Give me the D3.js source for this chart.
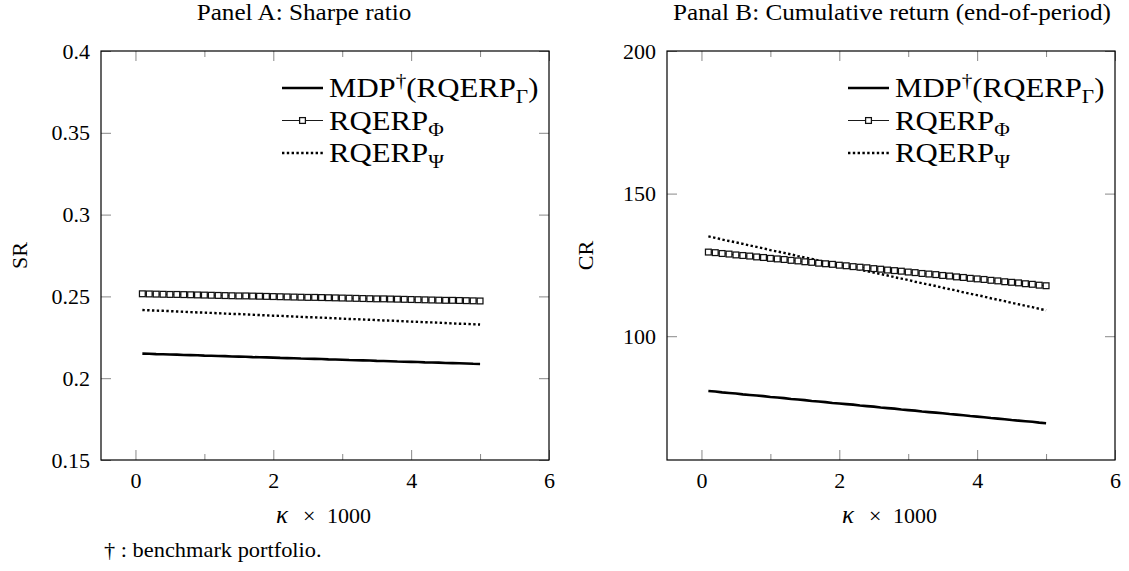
<!DOCTYPE html>
<html>
<head>
<meta charset="utf-8">
<script src="https://cdn.jsdelivr.net/npm/d3@7"></script>
<style>
  body { margin: 0; background: #fff; }
  svg text { font-family: "Liberation Serif", "DejaVu Serif", serif; fill: #000; }
  .tick line { stroke: #888; stroke-width: 1; }
  .tick text { font-size: 22px; }
</style>
</head>
<body>
<svg id="chart" width="1129" height="571"></svg>
<script>
// kappa x 1000
const kappa = [0.1, 0.2, 0.3, 0.4, 0.5, 0.6, 0.7, 0.8, 0.9, 1.0,
  1.1, 1.2, 1.3, 1.4, 1.5, 1.6, 1.7, 1.8, 1.9, 2.0,
  2.1, 2.2, 2.3, 2.4, 2.5, 2.6, 2.7, 2.8, 2.9, 3.0,
  3.1, 3.2, 3.3, 3.4, 3.5, 3.6, 3.7, 3.8, 3.9, 4.0,
  4.1, 4.2, 4.3, 4.4, 4.5, 4.6, 4.7, 4.8, 4.9, 5.0];

// Panel A: Sharpe ratio
const srMDP = [0.2150, 0.2149, 0.2147, 0.2146, 0.2145, 0.2144, 0.2142, 0.2141, 0.2140, 0.2138,
  0.2137, 0.2136, 0.2135, 0.2133, 0.2132, 0.2131, 0.2129, 0.2128, 0.2127, 0.2126,
  0.2124, 0.2123, 0.2122, 0.2120, 0.2119, 0.2118, 0.2117, 0.2115, 0.2114, 0.2113,
  0.2111, 0.2110, 0.2109, 0.2108, 0.2106, 0.2105, 0.2104, 0.2102, 0.2101, 0.2100,
  0.2099, 0.2097, 0.2096, 0.2095, 0.2093, 0.2092, 0.2091, 0.2090, 0.2088, 0.2087];
const srPhi = [0.2516, 0.2515, 0.2514, 0.2513, 0.2512, 0.2512, 0.2511, 0.2510, 0.2509, 0.2508,
  0.2507, 0.2506, 0.2505, 0.2504, 0.2503, 0.2503, 0.2502, 0.2501, 0.2500, 0.2499,
  0.2498, 0.2497, 0.2496, 0.2495, 0.2494, 0.2494, 0.2493, 0.2492, 0.2491, 0.2490,
  0.2489, 0.2488, 0.2487, 0.2486, 0.2485, 0.2485, 0.2484, 0.2483, 0.2482, 0.2481,
  0.2480, 0.2479, 0.2478, 0.2477, 0.2476, 0.2476, 0.2475, 0.2474, 0.2473, 0.2472];
const srPsi = [0.2417, 0.2415, 0.2413, 0.2412, 0.2410, 0.2408, 0.2406, 0.2404, 0.2402, 0.2401,
  0.2399, 0.2397, 0.2395, 0.2393, 0.2392, 0.2390, 0.2388, 0.2386, 0.2384, 0.2382,
  0.2381, 0.2379, 0.2377, 0.2375, 0.2373, 0.2372, 0.2370, 0.2368, 0.2366, 0.2364,
  0.2362, 0.2361, 0.2359, 0.2357, 0.2355, 0.2353, 0.2352, 0.2350, 0.2348, 0.2346,
  0.2344, 0.2342, 0.2341, 0.2339, 0.2337, 0.2335, 0.2333, 0.2332, 0.2330, 0.2328];

// Panel B: cumulative return (end-of-period)
const crMDP = [80.8, 80.6, 80.3, 80.1, 79.9, 79.6, 79.4, 79.2, 79.0, 78.7,
  78.5, 78.3, 78.0, 77.8, 77.6, 77.3, 77.1, 76.9, 76.6, 76.4,
  76.2, 76.0, 75.7, 75.5, 75.3, 75.0, 74.8, 74.6, 74.3, 74.1,
  73.9, 73.6, 73.4, 73.2, 73.0, 72.7, 72.5, 72.3, 72.0, 71.8,
  71.6, 71.3, 71.1, 70.9, 70.6, 70.4, 70.2, 70.0, 69.7, 69.5];
const crPhi = [129.5, 129.3, 129.0, 128.8, 128.5, 128.3, 128.1, 127.8, 127.6, 127.3,
  127.1, 126.9, 126.6, 126.4, 126.1, 125.9, 125.6, 125.4, 125.2, 124.9,
  124.7, 124.4, 124.2, 124.0, 123.7, 123.5, 123.2, 123.0, 122.8, 122.5,
  122.3, 122.0, 121.8, 121.6, 121.3, 121.1, 120.8, 120.6, 120.3, 120.1,
  119.9, 119.6, 119.4, 119.1, 118.9, 118.7, 118.4, 118.2, 117.9, 117.7];
const crPsi = [135.0, 134.5, 133.9, 133.4, 132.9, 132.4, 131.8, 131.3, 130.8, 130.2,
  129.7, 129.2, 128.7, 128.1, 127.6, 127.1, 126.5, 126.0, 125.5, 125.0,
  124.4, 123.9, 123.4, 122.8, 122.3, 121.8, 121.3, 120.7, 120.2, 119.7,
  119.1, 118.6, 118.1, 117.6, 117.0, 116.5, 116.0, 115.4, 114.9, 114.4,
  113.9, 113.3, 112.8, 112.3, 111.7, 111.2, 110.7, 110.2, 109.6, 109.1];

const xMajorTicks = [0, 2, 4, 6];
const xMinorTicks = [1, 3, 5];
const srTicks = [0.15, 0.2, 0.25, 0.3, 0.35, 0.4];
const srTickLabels = ["0.15", "0.2", "0.25", "0.3", "0.35", "0.4"];
const crTicks = [100, 150, 200];
const crTickLabels = ["100", "150", "200"];

// legend text pieces: [text, "sup" | "sub" | null]
const legendLabels = [
  { key: "mdp", parts: [["MDP", null], ["†", "sup"], ["(RQERP", null], ["Γ", "sub"], [")", null]] },
  { key: "phi", parts: [["RQERP", null], ["Φ", "sub"]] },
  { key: "psi", parts: [["RQERP", null], ["Ψ", "sub"]] }
];

const svg = d3.select("#chart");
const WIDEN = 1.12; // Times is narrower than the Computer Modern of the original
const SQ = 5.8;     // square marker size

function styleLine(sel, key) {
  sel.attr("fill", "none").attr("stroke", "#000");
  if (key === "mdp") sel.attr("stroke-width", 2.6);
  else if (key === "phi") sel.attr("stroke-width", 0.9);
  else sel.attr("stroke-width", 2.4).attr("stroke-dasharray", "2.4 2.4");
}

function styleSquare(sel) {
  sel.attr("width", SQ).attr("height", SQ)
    .attr("fill", "#fff").attr("stroke", "#111").attr("stroke-width", 1.25);
}

function wideText(parent, cx, cy, anchor) {
  return parent.append("g")
    .attr("transform", `translate(${cx},${cy}) scale(${WIDEN},1)`)
    .append("text").attr("text-anchor", anchor);
}

function drawPanel(p) {
  const g = svg.append("g");
  const x = d3.scaleLinear().domain([-0.5, 6]).range([p.left, p.right]);
  const y = d3.scaleLinear().domain(p.yDomain).range([p.bottom, p.top]);

  // ticks point inward, labels outside
  g.append("g").attr("transform", `translate(0,${p.bottom})`)
    .call(d3.axisBottom(x).tickValues(xMajorTicks).tickFormat(d3.format("d"))
      .tickSizeInner(-10).tickSizeOuter(0).tickPadding(12))
    .call(a => a.select(".domain").remove());
  g.append("g").attr("transform", `translate(0,${p.bottom})`)
    .call(d3.axisBottom(x).tickValues(xMinorTicks).tickFormat("").tickSizeInner(-6).tickSizeOuter(0))
    .call(a => a.select(".domain").remove());
  g.append("g").attr("transform", `translate(0,${p.top})`)
    .call(d3.axisTop(x).tickValues(xMajorTicks).tickFormat("").tickSizeInner(-10).tickSizeOuter(0))
    .call(a => a.select(".domain").remove());
  g.append("g").attr("transform", `translate(0,${p.top})`)
    .call(d3.axisTop(x).tickValues(xMinorTicks).tickFormat("").tickSizeInner(-6).tickSizeOuter(0))
    .call(a => a.select(".domain").remove());

  g.append("g").attr("transform", `translate(${p.left},0)`)
    .call(d3.axisLeft(y).tickValues(p.yTicks).tickFormat((d, i) => p.yLabels[i])
      .tickSizeInner(-10).tickSizeOuter(0).tickPadding(11))
    .call(a => a.select(".domain").remove());
  g.append("g").attr("transform", `translate(${p.right},0)`)
    .call(d3.axisRight(y).tickValues(p.yTicks).tickFormat("").tickSizeInner(-10).tickSizeOuter(0))
    .call(a => a.select(".domain").remove());
  g.selectAll(".tick text").attr("font-family", null).attr("font-size", null);

  // frame
  g.append("rect")
    .attr("x", p.left).attr("y", p.top)
    .attr("width", p.right - p.left).attr("height", p.bottom - p.top)
    .attr("fill", "none").attr("stroke", "#000").attr("stroke-width", 1.2);

  const line = d3.line().x((d, i) => x(kappa[i])).y(d => y(d));

  [{ key: "phi", values: p.phi }, { key: "psi", values: p.psi }, { key: "mdp", values: p.mdp }]
    .forEach(s => {
      g.append("path").datum(s.values).attr("d", line).call(styleLine, s.key);
    });
  g.append("g").selectAll("rect")
    .data(p.phi)
    .join("rect")
    .attr("x", (d, i) => x(kappa[i]) - SQ / 2)
    .attr("y", d => y(d) - SQ / 2)
    .call(styleSquare);

  // legend
  const lg = g.append("g").attr("transform", `translate(${p.right - 267},${p.top + 37})`);
  legendLabels.forEach((item, i) => {
    const row = lg.append("g").attr("transform", `translate(0,${i * 32.5})`);
    row.append("line").attr("x1", 0).attr("x2", 41).attr("y1", 0).attr("y2", 0)
      .call(styleLine, item.key);
    if (item.key === "phi") {
      row.append("rect").attr("x", 20.5 - SQ / 2).attr("y", -SQ / 2).call(styleSquare);
    }
    const t = wideText(row, 47, 9, "start").attr("font-size", 27.5);
    let shift = 0;
    item.parts.forEach(([txt, kind]) => {
      const target = kind === "sup" ? -10.5 : kind === "sub" ? 6 : 0;
      const ts = t.append("tspan").text(txt).attr("dy", target - shift);
      if (kind) ts.attr("font-size", 19);
      shift = target;
    });
  });

  // x label: kappa x 1000
  const cx = (p.left + p.right) / 2;
  const xl = g.append("text").attr("y", 523).attr("font-size", 22);
  xl.append("tspan").attr("x", cx - 49).attr("font-style", "italic").attr("font-size", 25).text("κ");
  xl.append("tspan").attr("x", cx - 22).text("×");
  xl.append("tspan").attr("x", cx + 2).text("1000");

  g.append("text").attr("transform", `translate(${p.yLabelX},${(p.top + p.bottom) / 2}) rotate(-90)`)
    .attr("text-anchor", "middle").attr("font-size", 22).text(p.yLabel);
  wideText(g, p.titleX, 20, "middle").attr("font-size", 22.5).text(p.title);
}

drawPanel({
  left: 101, right: 549, top: 51, bottom: 460,
  yDomain: [0.15, 0.4], yTicks: srTicks, yLabels: srTickLabels,
  mdp: srMDP, phi: srPhi, psi: srPsi,
  yLabel: "SR", yLabelX: 27, title: "Panel A: Sharpe ratio", titleX: 304
});
drawPanel({
  left: 667, right: 1115, top: 51, bottom: 460,
  yDomain: [56.6, 200], yTicks: crTicks, yLabels: crTickLabels,
  mdp: crMDP, phi: crPhi, psi: crPsi,
  yLabel: "CR", yLabelX: 593, title: "Panal B: Cumulative return (end-of-period)", titleX: 892
});

wideText(svg, 104, 557, "start").attr("font-size", 20).text("† : benchmark portfolio.");
</script>
</body>
</html>
